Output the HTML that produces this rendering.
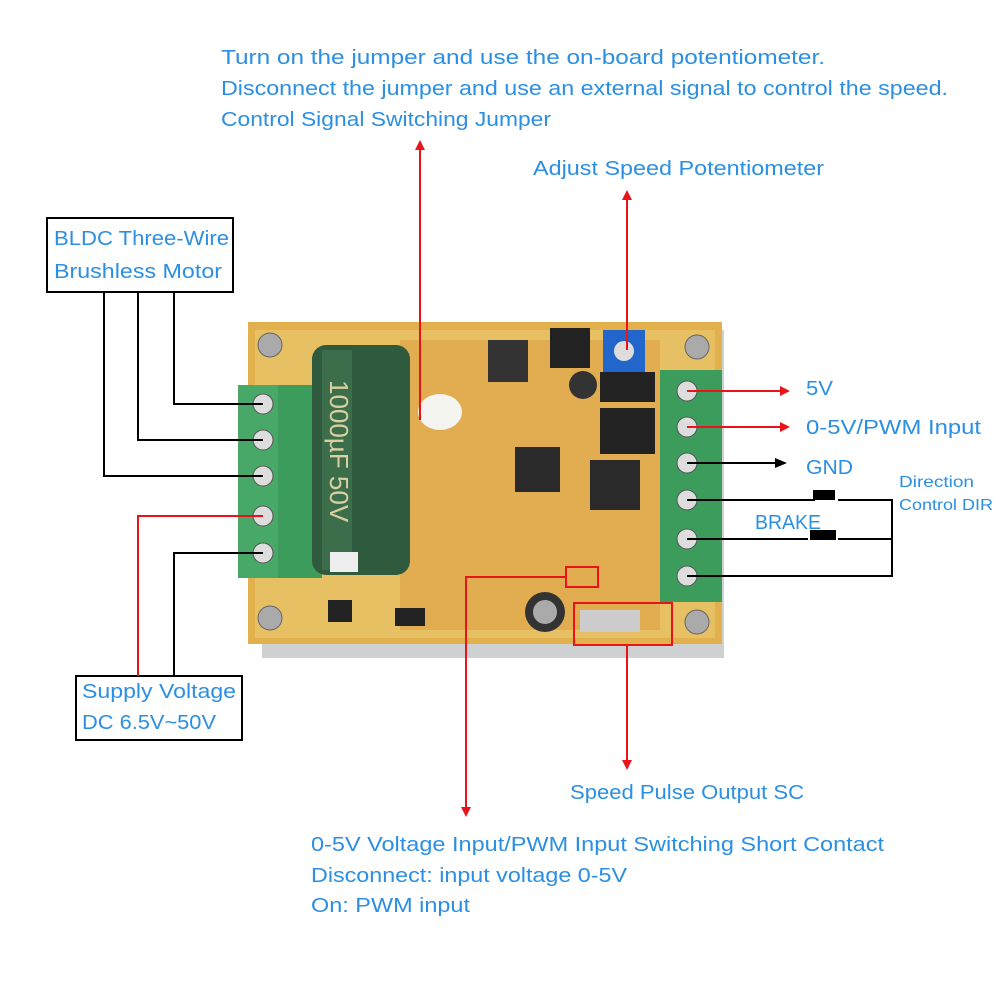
<!DOCTYPE html>
<html><head><meta charset="utf-8"><style>
html,body{margin:0;padding:0;background:#fff;}
svg{display:block}
text{font-family:"Liberation Sans",sans-serif;fill:#2b8fe3;}
</style></head><body>
<svg width="1000" height="1000" viewBox="0 0 1000 1000" xmlns="http://www.w3.org/2000/svg">
<defs>
<marker id="ar" markerWidth="10" markerHeight="10" refX="8" refY="5" orient="auto" markerUnits="userSpaceOnUse"><path d="M0,0 L10,5 L0,10 z" fill="#e8141a"/></marker>
<marker id="ak" markerWidth="12" markerHeight="10" refX="10" refY="5" orient="auto" markerUnits="userSpaceOnUse"><path d="M0,0 L12,5 L0,10 z" fill="#000"/></marker>
</defs>
<rect x="262" y="330" width="462" height="328" fill="#cfd0d2"/>
<rect x="248" y="322" width="474" height="322" fill="#e3b04e"/>
<rect x="255" y="330" width="460" height="308" fill="#e8c064"/>
<rect x="400" y="340" width="260" height="290" fill="#e2ac50"/>
<circle cx="270" cy="345" r="12" fill="#aaa" stroke="#666"/>
<circle cx="697" cy="347" r="12" fill="#aaa" stroke="#666"/>
<circle cx="270" cy="618" r="12" fill="#aaa" stroke="#666"/>
<circle cx="697" cy="622" r="12" fill="#aaa" stroke="#666"/>
<rect x="238" y="385" width="84" height="193" fill="#3c9c5c"/>
<rect x="238" y="385" width="40" height="193" fill="#48a868"/>
<g fill="#ddd" stroke="#555"><circle cx="263" cy="404" r="10"/><circle cx="263" cy="440" r="10"/><circle cx="263" cy="476" r="10"/><circle cx="263" cy="516" r="10"/><circle cx="263" cy="553" r="10"/></g>
<rect x="312" y="345" width="98" height="230" rx="14" fill="#2f5a3e"/>
<rect x="322" y="350" width="30" height="220" fill="#3c6e4c"/>
<text x="330" y="380" transform="rotate(90 330 380)" style="fill:#d8d0a0;font-size:26px">1000µF 50V</text>
<ellipse cx="440" cy="412" rx="22" ry="18" fill="#f4f4f0"/>
<rect x="488" y="340" width="40" height="42" fill="#333"/>
<rect x="550" y="328" width="40" height="40" fill="#222"/>
<rect x="603" y="330" width="42" height="42" fill="#2266cc"/>
<circle cx="624" cy="351" r="10" fill="#ddd"/>
<rect x="600" y="372" width="55" height="30" fill="#222"/>
<rect x="600" y="408" width="55" height="46" fill="#222"/>
<rect x="515" y="447" width="45" height="45" fill="#2a2a2a"/>
<rect x="590" y="460" width="50" height="50" fill="#2a2a2a"/>
<circle cx="583" cy="385" r="14" fill="#333"/>
<circle cx="545" cy="612" r="20" fill="#333"/>
<circle cx="545" cy="612" r="12" fill="#aaa"/>
<rect x="328" y="600" width="24" height="22" fill="#222"/>
<rect x="395" y="608" width="30" height="18" fill="#222"/>
<rect x="330" y="552" width="28" height="20" fill="#eee"/>
<rect x="580" y="610" width="60" height="22" fill="#ccc"/>
<rect x="660" y="370" width="62" height="232" fill="#3c9c5c"/>
<g fill="#ddd" stroke="#555"><circle cx="687" cy="391" r="10"/><circle cx="687" cy="427" r="10"/><circle cx="687" cy="463" r="10"/><circle cx="687" cy="500" r="10"/><circle cx="687" cy="539" r="10"/><circle cx="687" cy="576" r="10"/></g>
<rect x="574" y="603" width="98" height="42" fill="none" stroke="#e8141a" stroke-width="2"/>
<rect x="566" y="567" width="32" height="20" fill="none" stroke="#e8141a" stroke-width="2"/>

<g style="font-size:20px" lengthAdjust="spacingAndGlyphs">
<text x="221" y="64" textLength="604" lengthAdjust="spacingAndGlyphs">Turn on the jumper and use the on-board potentiometer.</text>
<text x="221" y="95" textLength="727" lengthAdjust="spacingAndGlyphs">Disconnect the jumper and use an external signal to control the speed.</text>
<text x="221" y="126" textLength="330" lengthAdjust="spacingAndGlyphs">Control Signal Switching Jumper</text>
<text x="533" y="175" textLength="291" lengthAdjust="spacingAndGlyphs">Adjust Speed Potentiometer</text>
<text x="54" y="245" textLength="175" lengthAdjust="spacingAndGlyphs">BLDC Three-Wire</text>
<text x="54" y="278" textLength="168" lengthAdjust="spacingAndGlyphs">Brushless Motor</text>
<text x="82" y="698" textLength="154" lengthAdjust="spacingAndGlyphs">Supply Voltage</text>
<text x="82" y="729" textLength="134" lengthAdjust="spacingAndGlyphs">DC 6.5V~50V</text>
<text x="806" y="395" textLength="27" lengthAdjust="spacingAndGlyphs">5V</text>
<text x="806" y="434" textLength="175" lengthAdjust="spacingAndGlyphs">0-5V/PWM Input</text>
<text x="806" y="474" textLength="47" lengthAdjust="spacingAndGlyphs">GND</text>
<text x="755" y="529" textLength="66" lengthAdjust="spacingAndGlyphs">BRAKE</text>
<text x="570" y="799" textLength="234" lengthAdjust="spacingAndGlyphs">Speed Pulse Output SC</text>
<text x="311" y="851" textLength="573" lengthAdjust="spacingAndGlyphs">0-5V Voltage Input/PWM Input Switching Short Contact</text>
<text x="311" y="882" textLength="316" lengthAdjust="spacingAndGlyphs">Disconnect: input voltage 0-5V</text>
<text x="311" y="912" textLength="159" lengthAdjust="spacingAndGlyphs">On: PWM input</text>
</g>
<text x="899" y="487" style="font-size:16px" textLength="75" lengthAdjust="spacingAndGlyphs">Direction</text>
<text x="899" y="510" style="font-size:16px" textLength="94" lengthAdjust="spacingAndGlyphs">Control DIR</text>

<rect x="47" y="218" width="186" height="74" fill="none" stroke="#000" stroke-width="2"/>
<rect x="76" y="676" width="166" height="64" fill="none" stroke="#000" stroke-width="2"/>

<g stroke="#000" stroke-width="2" fill="none">
<polyline points="174,292 174,404 263,404"/>
<polyline points="138,292 138,440 263,440"/>
<polyline points="104,292 104,476 263,476"/>
<polyline points="174,676 174,553 263,553"/>
<polyline points="687,500 815,500"/>
<polyline points="838,500 892,500 892,576 687,576"/>
<polyline points="687,539 808,539"/>
<polyline points="838,539 892,539"/>
<line x1="687" y1="463" x2="785" y2="463" marker-end="url(#ak)"/>
</g>
<rect x="813" y="490" width="22" height="10" fill="#000"/>
<rect x="810" y="530" width="26" height="10" fill="#000"/>
<g stroke="#e8141a" stroke-width="2" fill="none">
<polyline points="138,676 138,516 263,516"/>
<line x1="420" y1="420" x2="420" y2="142" marker-end="url(#ar)"/>
<line x1="627" y1="350" x2="627" y2="192" marker-end="url(#ar)"/>
<line x1="687" y1="391" x2="788" y2="391" marker-end="url(#ar)"/>
<line x1="687" y1="427" x2="788" y2="427" marker-end="url(#ar)"/>
<line x1="627" y1="645" x2="627" y2="768" marker-end="url(#ar)"/>
<polyline points="566,577 466,577 466,815" marker-end="url(#ar)"/>
</g>
</svg>
</body></html>
